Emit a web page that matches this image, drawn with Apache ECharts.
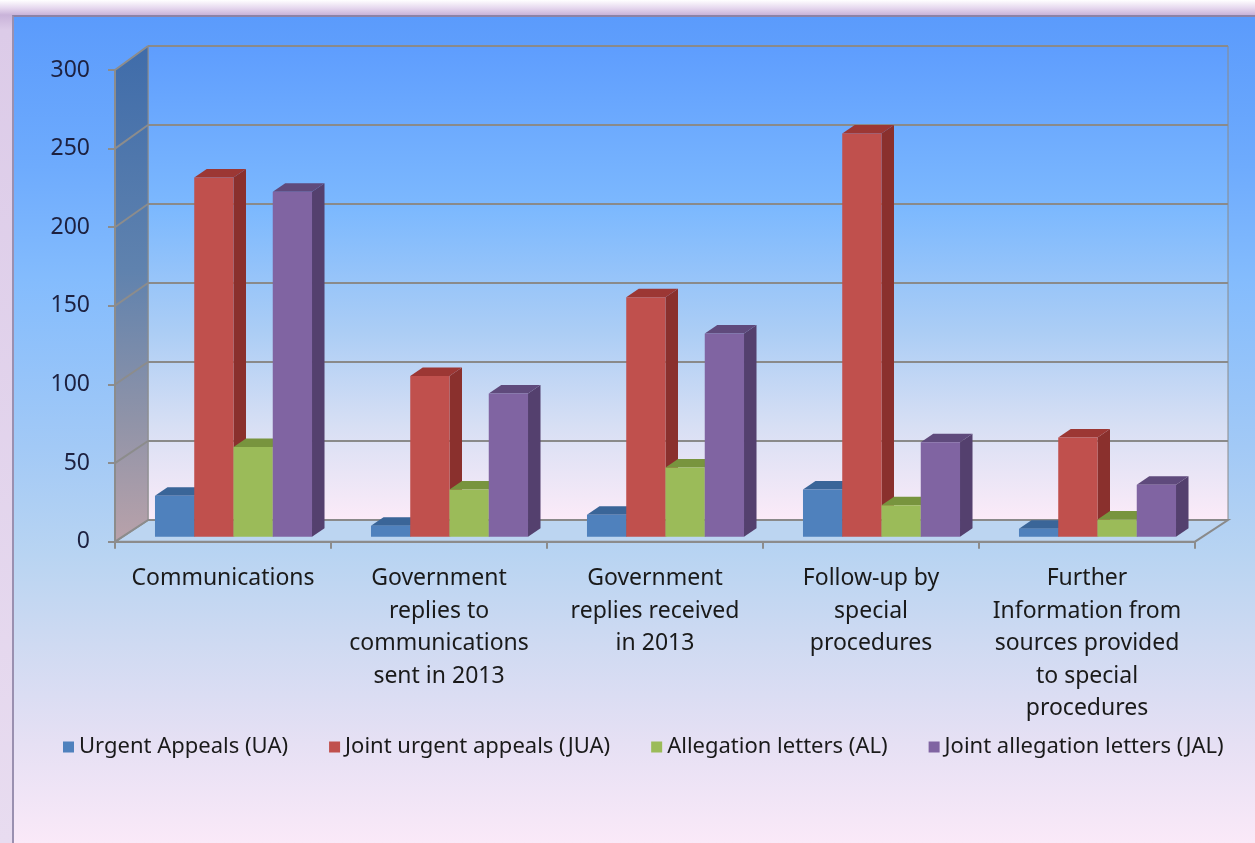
<!DOCTYPE html>
<html>
<head>
<meta charset="utf-8">
<script src="https://cdn.jsdelivr.net/npm/echarts@6/dist/echarts.min.js"></script>
<style>
  html, body { margin: 0; padding: 0; overflow: hidden; }
  body { width: 1255px; height: 843px; position: relative;
    background: linear-gradient(to bottom, #ffffff 0px, #e6d8ee 8px, #c9b3d9 15px, #dccbe8 30px, #e8dcf0 843px); }
  #frame { position: absolute; left: 12px; top: 15px; right: 0; bottom: 0;
    border-top: 2px solid #8c82a6; border-left: 2px solid #9a90b0;
    background: linear-gradient(to bottom, #5b9bfc 0%, #6eabfd 18%, #84bcfd 32%, #a2c9f6 52%, #b8d4f2 65%, #cfdaf2 76%, #e6e0f4 88%, #fae9f8 100%); }
  #main { position: absolute; left: 0; top: 0; width: 1255px; height: 843px; }
</style>
</head>
<body>
<div id="frame"></div>
<div id="main"></div>
<script>
const categories = [
  'Communications',
  'Government\nreplies to\ncommunications\nsent in 2013',
  'Government\nreplies received\nin 2013',
  'Follow-up by\nspecial\nprocedures',
  'Further\nInformation from\nsources provided\nto special\nprocedures'
];
const seriesNames = ['Urgent Appeals (UA)', 'Joint urgent appeals (JUA)', 'Allegation letters (AL)', 'Joint allegation letters (JAL)'];
const uaValues  = [26, 7, 14, 30, 5];
const juaValues = [228, 102, 152, 256, 63];
const alValues  = [57, 30, 44, 20, 11];
const jalValues = [219, 91, 129, 60, 33];
const yTicks = [0, 50, 100, 150, 200, 250, 300];

const seriesValues = [uaValues, juaValues, alValues, jalValues];
const faceColors = [
  { front: '#4f81bd', top: '#3a6598', side: '#34577f' },
  { front: '#c0504d', top: '#9c3734', side: '#8a302d' },
  { front: '#9bbb59', top: '#78943e', side: '#6b8536' },
  { front: '#8064a2', top: '#5f4a7c', side: '#54406e' }
];

// layout constants
const FRONT = { x: 115, y: 70, w: 1080, h: 471.7 };
const BACK = { x: 148, y: 46, w: 1080, h: 474 };
const BARS = { x: 125.5, y: 64.2, w: 1080, h: 472.5 };
const BAR_DEPTH = [12.5, -8.5];
const GROUP_FRACTION = 0.727;

const chart = echarts.init(document.getElementById('main'), null, { renderer: 'canvas' });

function frameRender(params, api) {
  if (params.dataIndex !== 0) return null;
  const fx = FRONT.x, fy0 = FRONT.y + FRONT.h;
  const bx = BACK.x, by0 = BACK.y + BACK.h;
  const ftop = api.coord([0, yTicks[yTicks.length - 1]])[1];
  const children = [];
  children.push({ type: 'polygon', shape: { points: [[fx, fy0], [bx, by0], [BACK.x + BACK.w, by0], [FRONT.x + FRONT.w, fy0]] },
    style: { fill: '#bcd5f1', stroke: '#8a8a8a', lineWidth: 2 } });
  children.push({ type: 'polygon', shape: { points: [[fx, ftop], [bx, BACK.y], [bx, by0], [fx, fy0]] },
    style: { fill: new echarts.graphic.LinearGradient(0, 0, 0, 1, [
      { offset: 0, color: '#3f6caa' }, { offset: 0.45, color: '#5f82ae' }, { offset: 0.75, color: '#8f93a8' }, { offset: 1, color: '#b9a2aa' }]),
      stroke: '#8a8a8a', lineWidth: 1 } });
  yTicks.forEach(function (t) {
    const fyy = api.coord([0, t])[1];
    const byy = BACK.y + BACK.h - (t / yTicks[yTicks.length - 1]) * BACK.h;
    children.push({ type: 'line', shape: { x1: fx, y1: fyy, x2: bx, y2: byy }, style: { stroke: '#8c8c8c', lineWidth: 2 } });
  });
  return { type: 'group', children: children };
}

function makeBarRender(k) {
  const c = faceColors[k];
  return function (params, api) {
    const ci = api.value(0), v = api.value(1);
    const base = api.coord([ci, 0]);
    const top = api.coord([ci, v]);
    const cw = api.size([1, 0])[0];
    const bw = cw * GROUP_FRACTION / 4;
    const x0 = base[0] - 2 * bw + k * bw;
    const x1 = x0 + bw;
    const dx = BAR_DEPTH[0], dy = BAR_DEPTH[1];
    const yb = base[1], yt = top[1];
    return { type: 'group', children: [
      { type: 'polygon', shape: { points: [[x1, yt], [x1 + dx, yt + dy], [x1 + dx, yb + dy], [x1, yb]] }, style: { fill: c.side } },
      { type: 'polygon', shape: { points: [[x0, yt], [x0 + dx, yt + dy], [x1 + dx, yt + dy], [x1, yt]] }, style: { fill: c.top } },
      { type: 'rect', shape: { x: x0, y: yt, width: bw, height: yb - yt }, style: { fill: c.front } }
    ] };
  };
}

const series = [{
  type: 'custom', name: '__frame', xAxisIndex: 0, yAxisIndex: 0, z: 1, clip: false, silent: true,
  data: [[0, 0]], renderItem: frameRender, encode: { x: 0, y: 1 }
}];
seriesNames.forEach(function (name, k) {
  series.push({
    type: 'custom', name: name, xAxisIndex: 2, yAxisIndex: 2, z: 3 + k, clip: false,
    itemStyle: { color: faceColors[k].front },
    data: seriesValues[k].map(function (v, i) { return [i, v]; }),
    encode: { x: 0, y: 1 },
    renderItem: makeBarRender(k)
  });
});

const option = {
  animation: false,
  backgroundColor: 'transparent',
  textStyle: { fontFamily: 'Noto Sans' },
  grid: [
    { left: FRONT.x, top: FRONT.y, width: FRONT.w, height: FRONT.h },
    { left: BACK.x, top: BACK.y, width: BACK.w, height: BACK.h, show: true, borderWidth: 1, borderColor: '#8a8a8a',
      backgroundColor: new echarts.graphic.LinearGradient(0, 0, 0, 1, [
        { offset: 0, color: '#5e9dfe' }, { offset: 0.35, color: '#7db9fe' }, { offset: 0.6, color: '#abcdf5' },
        { offset: 0.8, color: '#d7dff4' }, { offset: 1, color: '#fcebf8' }]) },
    { left: BARS.x, top: BARS.y, width: BARS.w, height: BARS.h }
  ],
  xAxis: [
    { type: 'category', gridIndex: 0, data: categories, z: 10,
      axisLine: { show: true, lineStyle: { color: '#8c8c8c', width: 2 } },
      axisTick: { show: true, length: 7, interval: 0, lineStyle: { color: '#8c8c8c', width: 2 } },
      axisLabel: { interval: 0, fontSize: 23, lineHeight: 32.5, margin: 21, color: '#1a1a1a', fontFamily: 'Noto Sans' } },
    { type: 'category', gridIndex: 1, data: categories, show: false },
    { type: 'category', gridIndex: 2, data: categories, show: false }
  ],
  yAxis: [
    { type: 'value', gridIndex: 0, min: 0, max: 300, interval: 50, z: 10,
      axisLine: { show: true, lineStyle: { color: '#8c8c8c', width: 2 } },
      axisTick: { show: true, length: 7, lineStyle: { color: '#8c8c8c', width: 2 } },
      splitLine: { show: false },
      axisLabel: { fontSize: 23, margin: 25, color: '#1d2140', fontFamily: 'Noto Sans' } },
    { type: 'value', gridIndex: 1, min: 0, max: 300, interval: 50,
      axisLine: { show: false }, axisTick: { show: false }, axisLabel: { show: false },
      splitLine: { show: true, lineStyle: { color: '#8a8a8a', width: 2 } } },
    { type: 'value', gridIndex: 2, min: 0, max: 300, interval: 50, show: false, splitLine: { show: false } }
  ],
  legend: {
    data: seriesNames, left: 58, top: 731, itemGap: 41, itemWidth: 11, itemHeight: 11, icon: 'rect',
    textStyle: { fontSize: 22, color: '#1a1a1a', fontFamily: 'Noto Sans' }
  },
  series: series
};
chart.setOption(option);
</script>
</body>
</html>
